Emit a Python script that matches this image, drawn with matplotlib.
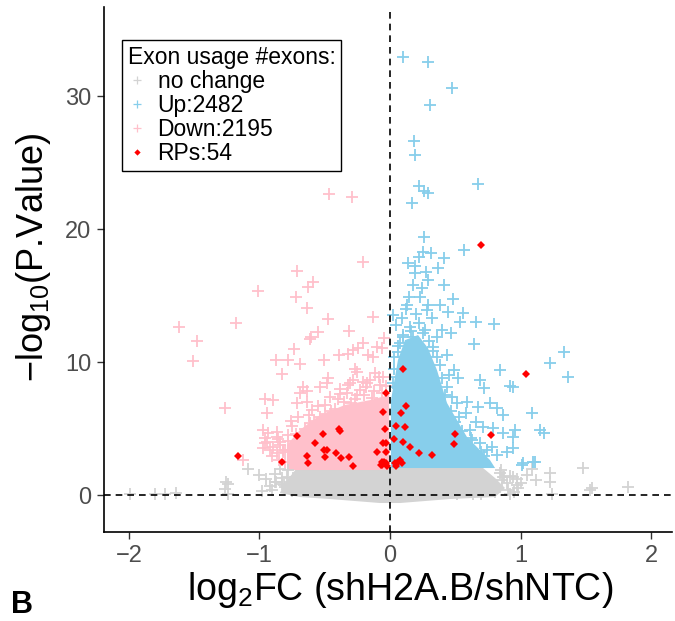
import matplotlib
matplotlib.use("Agg")
import matplotlib.pyplot as plt
from matplotlib.lines import Line2D

plt.rcParams['font.family'] = ['Liberation Sans', 'DejaVu Sans']
plt.rcParams['mathtext.fontset'] = 'custom'
plt.rcParams['mathtext.rm'] = 'Liberation Sans'
plt.rcParams['mathtext.it'] = 'Liberation Sans:italic'

# dense cores (outline of the solid blobs)
nc_core_x = [-0.713, 0.713, 0.805, 0.881, 0.805, 0.46, 0.077, -0.077, -0.46, -0.69, -0.843, -0.805]
nc_core_y = [2.03, 2.03, 1.28, 0.53, -0.15, -0.30, -0.60, -0.60, -0.30, -0.15, 0.15, 0.90]
down_core_x = [-0.789, -0.789, -0.69, -0.536, -0.345, -0.153, -0.008, -0.008]
down_core_y = [1.88, 3.76, 4.89, 6.02, 6.77, 7.14, 7.52, 1.88]
up_core_x = [0.008, 0.008, 0.061, 0.115, 0.215, 0.291, 0.36, 0.437, 0.59, 0.766, 0.805]
up_core_y = [2.03, 7.14, 10.15, 11.65, 12.03, 11.05, 9.4, 6.92, 4.36, 2.63, 2.03]

# scattered exons
up_x = [0.10, 0.289, 0.473, 0.307, 0.184, 0.192, 0.225, 0.26, 0.294, 0.672, 0.171, 0.263,
        0.255, 0.312, 0.57, 0.414, 0.225, 0.14, 0.19, 0.37, 0.274, 0.19, 0.294, 0.416, 0.179,
        0.243, 0.23, 0.148, 0.48, 0.128, 0.294, 0.383, 0.442, 0.562, 0.025, 0.09, 0.32, 0.536,
        0.657, 0.8, 0.396, 0.467, 0.646, 1.333, 1.226, 1.362, 0.843, 0.49, 0.519, 0.69, 0.723,
        0.92, 0.94, 1.086, 1.149, 1.18, 0.587, 0.677, 0.766, 0.817, 0.868, 0.715, 0.79, 0.868,
        0.958, 0.945, 0.894, 0.945, 1.009, 1.098, 0.613, 0.626, 0.69, 0.741, 0.817, 0.511,
        0.473, 0.434, 0.358, 0.434, 0.332, 0.077, 0.064, 0.051, 0.051, 1.018, 1.107,
        0.15, 0.22, 0.27, 0.10, 0.18,
        0.6, 0.65, 0.7, 0.55, 0.5, 0.47, 0.42, 0.4, 0.38, 0.33, 0.3, 0.25, 0.16, 0.1, 0.06,
        0.03, 0.03, 0.02, 0.53, 0.62, 0.72, 0.78, 0.66, 0.58, 0.45, 0.36, 0.2, 0.12, 0.05, 0.28]
up_y = [32.96, 32.56, 30.63, 29.30, 26.62, 25.54, 23.26, 22.9, 22.73, 23.41, 21.95, 19.37,
        18.3, 18.17, 18.42, 17.8, 17.87, 17.42, 17.24, 17.09, 16.79, 16.67, 16.17, 15.79, 15.79,
        15.54, 14.91, 14.91, 14.71, 14.29, 14.29, 14.29, 13.78, 13.71, 13.53, 13.29, 13.29, 13.03,
        13.03, 12.86, 12.41, 12.16, 11.33, 10.77, 9.90, 8.90, 9.40, 9.40, 8.77, 8.65, 8.02,
        8.20, 8.1, 6.14, 4.89, 4.64, 7.02, 6.59, 6.89, 6.52, 6.02, 5.14, 5.01, 4.64,
        4.89, 4.38, 3.26, 3.51, 2.26, 2.5, 4.89, 4.14, 3.89, 3.38, 3.0, 6.89,
        7.39, 8.14, 10.4, 10.53, 11.15, 11.4, 10.77, 8.9, 8.14, 2.38, 2.5,
        12.6, 12.9, 12.4, 12.0, 11.9,
        3.5, 2.8, 3.2, 4.8, 5.5, 6.3, 7.5, 8.8, 9.8, 10.8, 11.6, 12.2, 12.3, 11.9, 11.2,
        10.4, 9.5, 8.4, 5.9, 4.3, 2.9, 3.6, 5.5, 6.2, 9.0, 11.9, 13.6, 14.0, 12.8, 13.9]

down_x = [-0.47, -0.289, -0.209, -0.715, -0.588, -0.626, -1.009, -0.72, -0.638, -0.128, -0.473,
          -1.182, -1.617, -0.312, -0.549, -0.605, -0.613, -1.474, -0.046, -0.205, -0.243, -0.281,
          -0.319, -0.388, -0.102, -0.064, -0.166, -0.128, -0.733, -0.506, -0.876, -0.779, -0.69,
          -1.512, -0.83, -0.268, -0.255, -0.115, -0.082, -0.473, -0.485, -0.319, -0.281, -0.205,
          -0.179, -0.077, -0.536, -0.383, -0.332, -1.264, -0.958, -0.894, -0.69, -0.638, -0.945,
          -0.715, -0.638, -0.703, -0.971, -0.932, -0.868, -0.958, -0.958, -0.971, -0.92, -0.843,
          -0.818, -1.124, -0.613, -0.536, -0.46, -0.307, -0.23, -0.153, -0.051, -0.664,
          -0.868, -0.945, -0.894, -0.843, -0.805, -0.868, -0.5, -0.4, -0.25, -0.6, -0.3, -0.12,
          -0.45, -0.75, -0.78, -0.9, -0.85,
          -0.8, -0.82, -0.78, -0.72, -0.65, -0.58, -0.5, -0.42, -0.35, -0.27, -0.2, -0.14,
          -0.06, -0.03, -0.62, -0.55, -0.38, -0.18, -0.76, -0.86]
down_y = [22.61, 22.43, 17.52, 16.86, 16.04, 15.66, 15.36, 14.91, 14.08, 13.36, 13.23,
          12.91, 12.63, 12.33, 12.28, 11.9, 11.73, 11.58, 11.78, 11.41, 11.03, 10.9,
          10.58, 10.53, 11.15, 11.03, 10.53, 10.4, 10.98, 10.15, 10.15, 10.15, 9.85,
          10.08, 9.1, 9.45, 9.27, 9.15, 8.9, 8.77, 8.4, 8.27, 8.65, 8.52,
          8.4, 8.27, 8.14, 7.95, 7.65, 6.52, 7.2, 7.14, 7.65, 7.82, 6.14,
          6.89, 7.02, 5.89, 4.89, 4.64, 4.76, 4.26, 3.89, 3.51, 3.38, 3.76,
          3.38, 2.63, 5.39, 5.89, 7.39, 8.4, 7.89, 8.65, 8.9, 8.14,
          4.38, 4.01, 3.63, 4.01, 3.38, 3.13, 6.8, 7.2, 7.5, 6.4, 6.9, 7.8,
          6.3, 5.2, 4.5, 2.9, 2.6,
          2.5, 3.2, 4.1, 4.6, 5.0, 5.6, 6.1, 6.5, 7.0, 7.2, 7.5, 7.3,
          7.7, 8.2, 6.0, 6.7, 7.6, 8.1, 5.6, 4.2]

nc_x = [-1.086, -1.257, -1.239, -1.264, -1.64, -1.724, -1.8, -1.992, -0.881, -0.83, -0.805,
        -0.741, -0.792, -0.843, -0.779, -1.24, -0.874, -0.81, -0.825, 0.983, 0.971, 0.92,
        0.868, 0.856, 1.226, 1.226, 1.09, 1.48, 1.545, 1.533, 1.826, 0.907, 0.92, 0.753,
        0.805, 0.638, 0.511, 0.94, 1.0, 0.97, 0.84, 0.87, 1.239,
        -0.88, -0.92, -0.9, -0.95, -0.75, -1.0, -0.98, 0.85, 0.9, 0.95, 0.7, 1.05, 1.12]
nc_y = [1.95, 0.95, 0.83, 0.43, 0.13, 0.05, 0.05, 0.05, 0.95, 0.83, 0.62,
        1.26, 1.38, 1.95, 1.88, 0.08, 1.0, 0.75, 1.26, 0.5, 1.18, 1.43,
        1.33, 1.13, 1.63, 1.0, 1.93, 2.05, 0.5, 0.38, 0.58, 0.38, 0.05, 0.5,
        0.23, 0.1, 0.05, 1.38, 0.88, 0.75, 1.65, 1.38, 0.1,
        1.6, 0.7, 0.4, 1.2, 0.3, 1.5, 0.3, 1.9, 0.9, 0.2, 0.05, 1.5, 1.1]

# ribosomal protein exons
rp_x = [0.695, 1.042, 0.097, 0.12, 0.084, 0.046, 0.113, 0.033, 0.097, 0.153, 0.225, 0.322,
        0.496, 0.493, 0.771, 0.038, 0.064, 0.09, 0.05, 0.075,
        -1.165, -0.828, -0.713, -0.636, -0.631, -0.575, -0.511, -0.503, -0.485, -0.496,
        -0.391, -0.381, -0.416, -0.375, -0.314, -0.286, -0.097, -0.051, -0.031, -0.038,
        -0.051, -0.031, -0.033, -0.046, -0.059, -0.072, -0.03, -0.06, -0.02]
rp_y = [18.82, 9.10, 9.45, 6.71, 6.19, 5.19, 5.14, 4.19, 4.01, 3.63, 3.13, 3.0,
        4.59, 3.81, 4.51, 2.38, 2.5, 2.38, 2.2, 2.6,
        2.96, 2.51, 4.46, 2.96, 2.38, 3.89, 4.56, 3.38, 3.38, 2.88,
        4.96, 4.83, 3.18, 2.81, 2.88, 2.18, 3.26, 6.26, 7.65, 4.96,
        3.89, 3.89, 3.26, 2.5, 2.26, 2.26, 2.4, 2.45, 2.2]

legend_title = "Exon usage #exons:"
legend_labels = ["no change", "Up:2482", "Down:2195", "RPs:54"]

grey = '#D3D3D3'
blue = '#87CEEB'
pink = '#FFC0CB'

fig = plt.figure(figsize=(6.75, 6.21), dpi=100)
ax = fig.add_axes([104/675, 89/621, 568/675, 525/621])

ms = 9
mew = 1.3
ax.fill(nc_core_x, nc_core_y, color=grey, lw=0)
ax.plot(nc_x, nc_y, '+', color=grey, ms=ms, mew=mew)
ax.fill(down_core_x, down_core_y, color=pink, lw=0)
ax.plot(down_x, down_y, '+', color=pink, ms=ms, mew=mew)
ax.fill(up_core_x, up_core_y, color=blue, lw=0)
ax.plot(up_x, up_y, '+', color=blue, ms=ms, mew=mew)

ax.axvline(0, color='black', lw=1.2, ls=(0, (4, 3)))
ax.axhline(0, color='black', lw=1.2, ls=(0, (4, 3)))
ax.plot(rp_x, rp_y, 'D', color='red', ms=4.4, mew=0)

ax.set_xlim(-2.19, 2.16)
ax.set_ylim(-2.78, 36.7)
ax.set_xticks([-2, -1, 0, 1, 2])
ax.set_yticks([0, 10, 20, 30])
for s in ['top', 'right']:
    ax.spines[s].set_visible(False)
for s in ['left', 'bottom']:
    ax.spines[s].set_linewidth(1.2)
ax.tick_params(length=5, width=1, color='#333333', labelcolor='#4D4D4D', labelsize=17, pad=4)

handles = [Line2D([], [], ls='none', marker='+', color=grey, ms=6, mew=0.9),
           Line2D([], [], ls='none', marker='+', color=blue, ms=6, mew=0.9),
           Line2D([], [], ls='none', marker='+', color=pink, ms=6, mew=0.9),
           Line2D([], [], ls='none', marker='D', color='red', ms=3.2, mew=0)]
leg = ax.legend(handles, legend_labels, title=legend_title, loc='upper left',
                bbox_to_anchor=(0.0317, 0.937), borderaxespad=0, fontsize=16.5,
                title_fontsize=16.5, alignment='left', fancybox=False, framealpha=1,
                edgecolor='black', borderpad=0.25, labelspacing=0.05, handlelength=0.8,
                handletextpad=0.5)
leg.get_frame().set_linewidth(1.0)

fig.text(34/675, 1 - 257/621, u'\u2212log$_{10}$(P.Value)', rotation=90,
         ha='center', va='center', fontsize=26)
fig.text(400/675, 1 - 600/621, 'log$_{2}$FC (shH2A.B/shNTC)', ha='center',
         va='baseline', fontsize=27)
fig.text(11/675, 1 - 613/621, 'B', ha='left', va='baseline', fontsize=22,
         fontweight='bold')

fig.savefig('out.png', dpi=100)
